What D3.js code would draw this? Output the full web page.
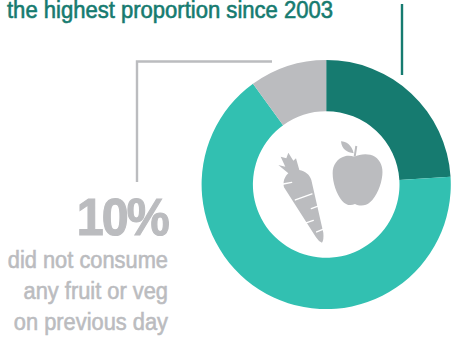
<!DOCTYPE html>
<html>
<head>
<meta charset="utf-8">
<script src="https://cdn.jsdelivr.net/npm/d3@7"></script>
<style>
html,body{margin:0;padding:0;background:#fff;overflow:hidden}
svg{display:block}
text{font-family:"Liberation Sans",Arial,sans-serif}
</style>
</head>
<body>
<svg id="chart" width="451" height="340"></svg>
<script>
const categories = ["Five or more a day", "Some fruit or veg", "No fruit or veg"];
const shares = [24, 66, 10];
const segmentColors = ["#167b70", "#32c0b1", "#bbbcbf"];
const headline = "the highest proportion since 2003";
const bigFigure = "10%";
const noteLines = ["did not consume", "any fruit or veg", "on previous day"];

const dark = "#167b70", grey = "#bbbcbf";
const svg = d3.select("#chart");

// Donut
const pie = d3.pie().sort(null).value((d, i) => shares[i]);
const arc = d3.arc().innerRadius(73.3).outerRadius(124.6);
svg.append("g")
  .attr("transform", "translate(326.2,184.5)")
  .selectAll("path")
  .data(pie(categories))
  .join("path")
  .attr("d", arc)
  .attr("fill", (d, i) => segmentColors[i]);

// Callout leader lines
const leader = d3.line();
svg.append("path")
  .attr("d", leader([[402, 4], [402, 75]]))
  .attr("fill", "none").attr("stroke", dark).attr("stroke-width", 2.4);
svg.append("path")
  .attr("d", leader([[272, 61.5], [137, 61.5], [137, 182]]))
  .attr("fill", "none").attr("stroke", grey).attr("stroke-width", 2.4);

// Headline, in a condensed setting
svg.append("text")
  .attr("x", 7).attr("y", 17.5)
  .attr("font-size", 23.5)
  .attr("textLength", 326).attr("lengthAdjust", "spacingAndGlyphs")
  .attr("fill", dark).attr("stroke", dark).attr("stroke-width", 0.6)
  .text(headline);

// Grey callout text, narrowed horizontally from its right edge
svg.append("text")
  .attr("transform", "translate(168,235) scale(0.93,1)")
  .attr("text-anchor", "end")
  .attr("font-size", 52).attr("font-weight", "bold")
  .attr("letter-spacing", -2)
  .attr("fill", grey).attr("stroke", grey).attr("stroke-width", 1.2)
  .text(bigFigure);

svg.append("g").selectAll("text")
  .data(noteLines)
  .join("text")
  .attr("transform", (d, i) => `translate(168,${268 + i * 31}) scale(0.91,1)`)
  .attr("text-anchor", "end")
  .attr("font-size", 24)
  .attr("stroke", grey).attr("stroke-width", 0.6)
  .attr("fill", grey)
  .text(d => d);

// Carrot and apple pictograms, drawn on a 3x grid
const icons = svg.append("g").attr("transform", "translate(260,130) scale(0.3333)");
icons.append("path").attr("fill", grey)
  .attr("d", "M55,105 L76,110 L62,80 L79,85 L85,68 L100,92 L108,85 L118,120 C135,122 150,135 154,150 L190,308 Q192,330 186,338 Q176,335 168,322 L72,172 C68,155 74,140 85,130 Z");
icons.append("g").attr("stroke", "#fff").attr("stroke-width", 4).attr("stroke-linecap", "round")
  .selectAll("path")
  .data([[[70, 162], [95, 157]], [[106, 210], [156, 192]], [[154, 236], [180, 226]], [[134, 280], [160, 271]], [[170, 306], [194, 296]]])
  .join("path")
  .attr("d", d => leader(d));
icons.append("path").attr("fill", grey)
  .attr("d", "M283,80 C300,72 325,68 345,80 C362,92 370,112 367,135 C364,165 350,200 330,217 C318,228 300,230 285,222 C272,228 258,226 246,212 C230,192 218,160 218,130 C218,105 232,85 255,79 C265,76 275,78 283,80 Z");
icons.append("path").attr("fill", grey)
  .attr("d", "M243,34 C258,34 275,45 281,70 C262,68 245,58 243,34 Z");
icons.append("path").attr("fill", "none").attr("stroke", grey).attr("stroke-width", 6)
  .attr("d", leader([[284, 80], [289, 48]]));
</script>
</body>
</html>
